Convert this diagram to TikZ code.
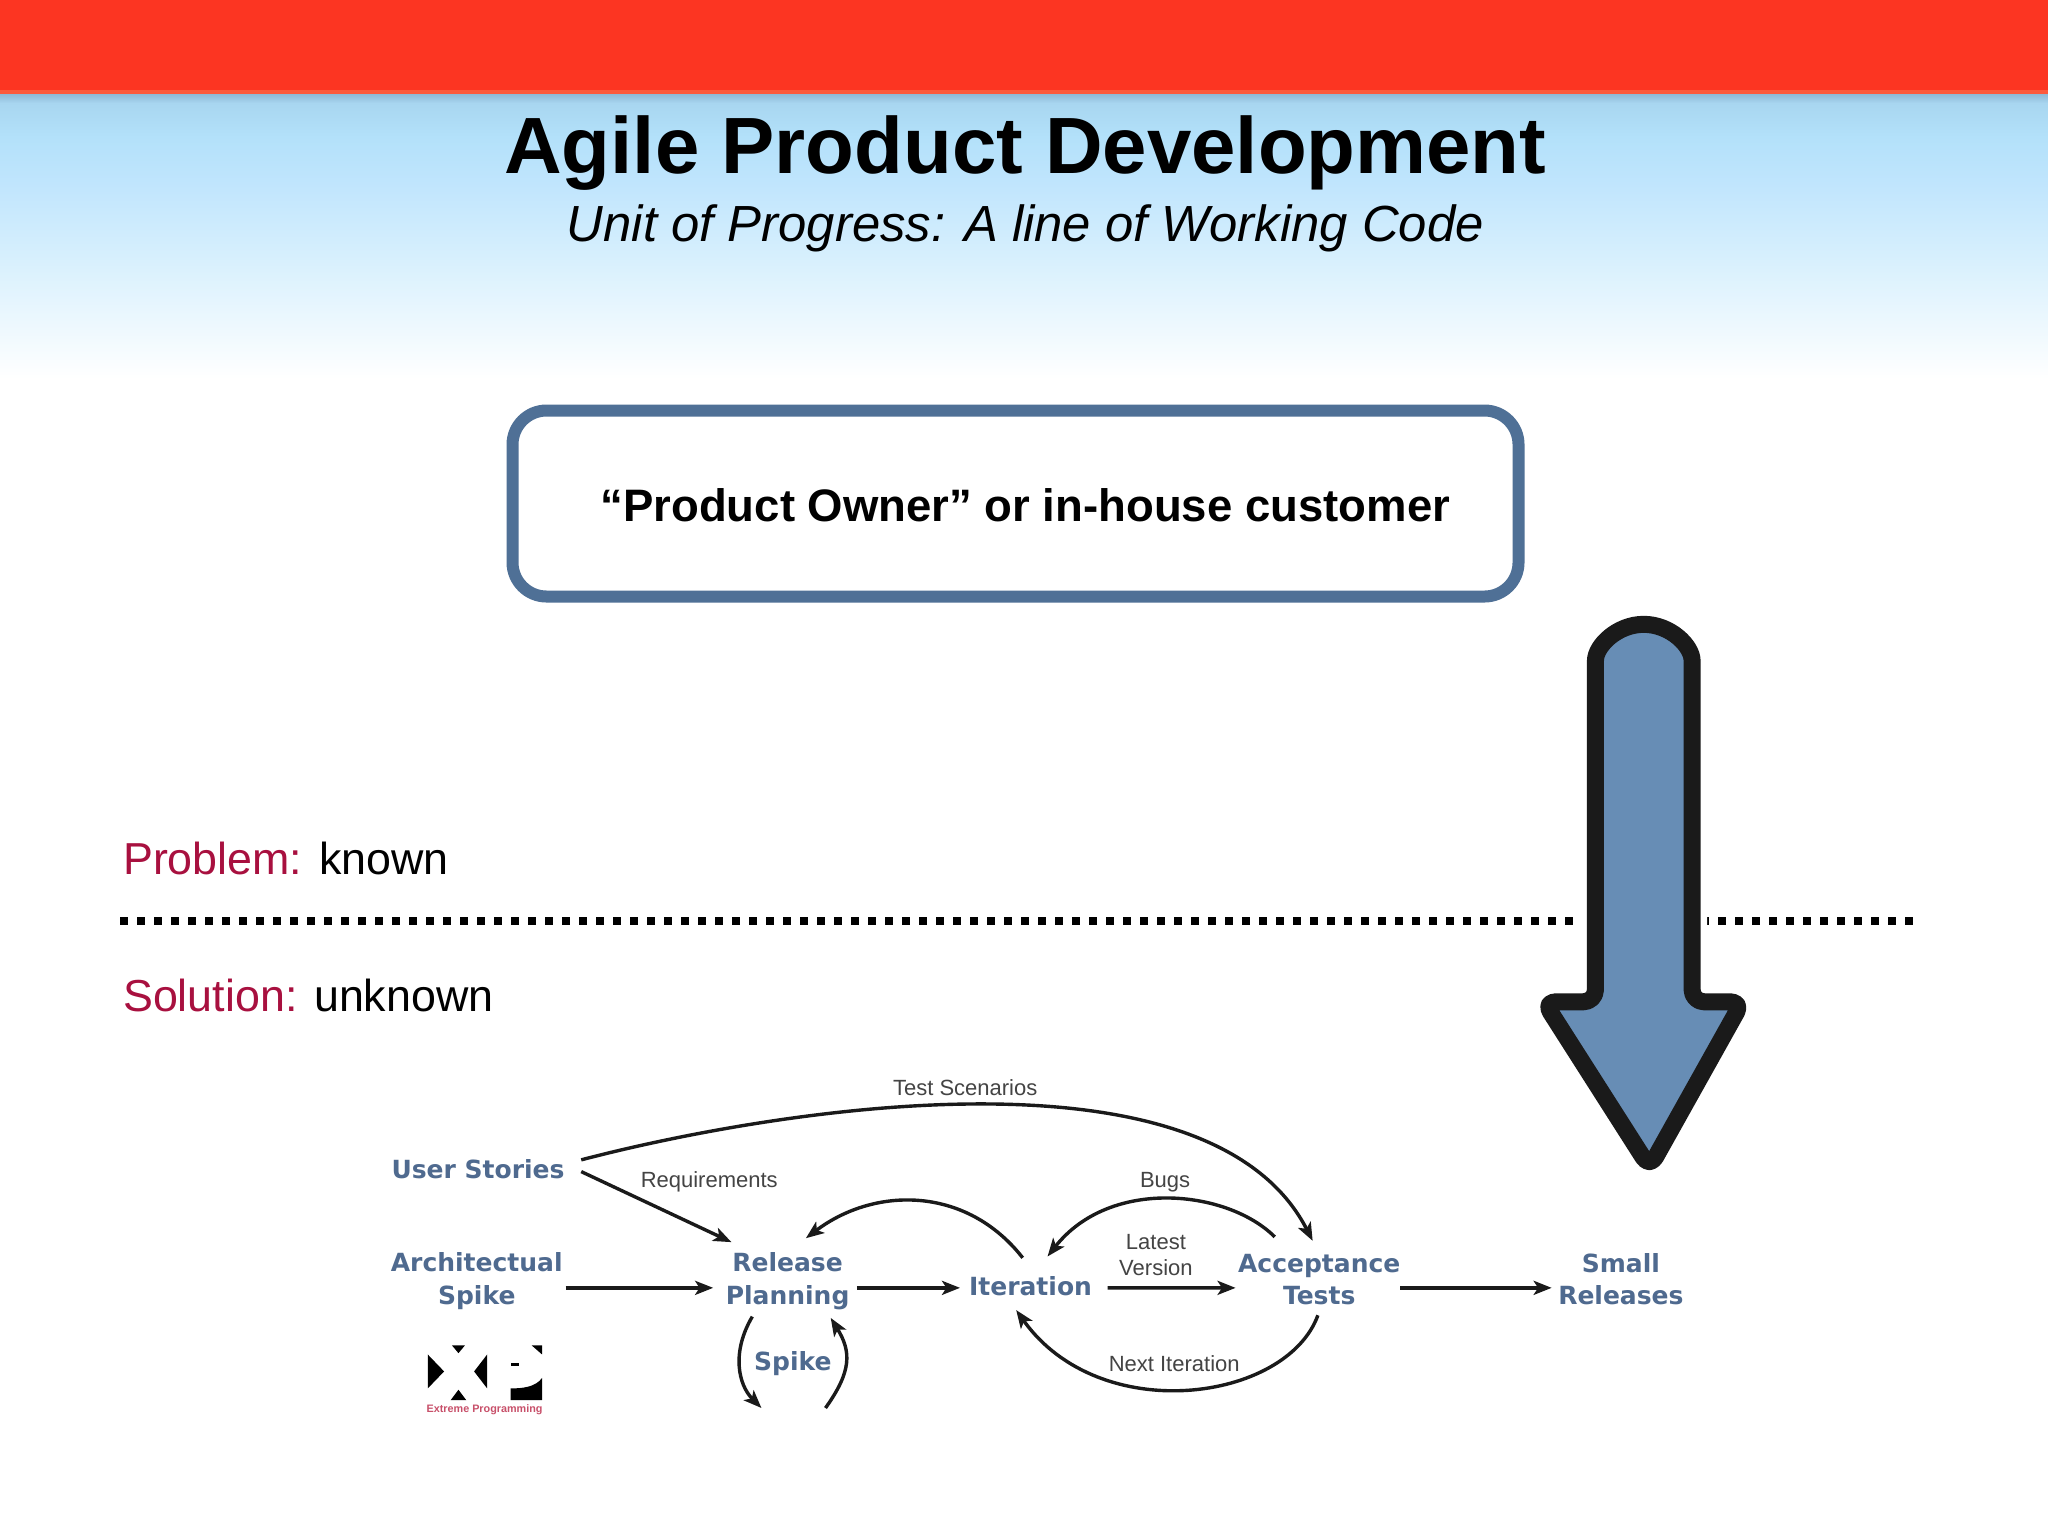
\documentclass[tikz,border=0pt]{standalone}
\usepackage{fontspec}
\setmainfont{Liberation Sans}
\newfontfamily\stagefont{DejaVu Sans}
\usetikzlibrary{arrows.meta,calc}
\definecolor{barred}{HTML}{FC3522}
\definecolor{stripred}{HTML}{FD5A3C}
\definecolor{skyA}{HTML}{8FBAD6}
\definecolor{skyB}{HTML}{A8D6F0}
\definecolor{skyC}{HTML}{B3E1FA}
\definecolor{skyD}{HTML}{C0E5FD}
\definecolor{skyE}{HTML}{D8F0FD}
\definecolor{boxblue}{HTML}{4F7096}
\definecolor{arrowblue}{HTML}{678DB5}
\definecolor{arrowink}{HTML}{1A1A1A}
\definecolor{crimson}{HTML}{A8103F}
\definecolor{stageblue}{HTML}{4F6A8F}
\definecolor{labelgrey}{HTML}{444444}
\definecolor{logopink}{HTML}{C8506A}
\tikzset{
  stage/.style={inner sep=0pt,align=center,text=stageblue,font=\stagefont\bfseries\fontsize{12.5}{16.3}\selectfont},
  flowlabel/.style={inner sep=0pt,align=center,text=labelgrey,font=\fontsize{11}{13.2}\selectfont},
  flow/.style={draw=arrowink,line width=1.7pt,-{Stealth[length=9pt,width=7pt,inset=2.2pt]}},
  side/.style={inner sep=0pt,anchor=west,font=\fontsize{22.4}{27}\selectfont},
}
\begin{document}
\begin{tikzpicture}[x=0.65306pt,y=-0.65306pt]
\useasboundingbox (0,0) rectangle (1568,1176);
\fill[white] (0,0) rectangle (1568,1176);
% header
\shade[top color=skyA,bottom color=skyB] (0,72) rectangle (1568,79);
\shade[top color=skyB,bottom color=skyC] (0,79) rectangle (1568,105);
\shade[top color=skyC,bottom color=skyD] (0,105) rectangle (1568,140);
\shade[top color=skyD,bottom color=skyE] (0,140) rectangle (1568,200);
\shade[top color=skyE,bottom color=white] (0,200) rectangle (1568,290);
\fill[barred] (0,0) rectangle (1568,69);
\fill[stripred] (0,69) rectangle (1568,72);
\node[inner sep=0pt,font=\bfseries\fontsize{39.9}{48}\selectfont] (title) at (785,117.5) {Agile Product Development};
\node[inner sep=0pt,font=\itshape\fontsize{25.4}{31}\selectfont] (subtitle) at (785,175) {Unit of Progress: A line of Working Code};
% owner box
\node[draw=boxblue,line width=6pt,rounded corners=17pt,minimum width=503pt,minimum height=93pt,inner sep=0pt] (ownerbox) at (777.5,385.5) {};
\node[inner sep=0pt,font=\bfseries\fontsize{22.75}{27}\selectfont] (ownertext) at (785,387) {“Product Owner” or in-house customer};
% problem / solution
\node[side] (problem) at (94,657) {\textcolor{crimson}{Problem:} known};
\node[side] (solution) at (94,762) {\textcolor{crimson}{Solution:} unknown};
\coordinate (divL) at (92,705);
\coordinate (divR) at (1471,705);
\draw[line width=4pt,dash pattern=on 4pt off 4.5pt] (divL) -- (divR);
% big arrow
\draw[fill=arrowblue,draw=arrowink,line width=8.5pt,line join=round,rounded corners=6pt,
      preaction={draw=white,line width=15pt}]
  (1221.5,767) -- (1221.5,515) arc[start angle=180,end angle=360,radius=37] -- (1295.5,767) -- (1334,767) -- (1263,894) -- (1182,767) -- cycle;
% stages
\node[stage] (us) at (366,895) {User Stories};
\node[stage] (arch) at (365,981) {Architectual\\Spike};
\node[stage] (rel) at (603,981) {Release\\Planning};
\node[stage] (spk) at (607,1044) {Spike};
\node[stage] (iter) at (789,985) {Iteration};
\node[stage] (acc) at (1010,979.5) {Acceptance\\Tests};
\node[stage] (small) at (1241,979.5) {Small\\Releases};
% labels
\node[flowlabel] (ltest) at (739,833) {Test Scenarios};
\node[flowlabel] (lreq) at (543,905) {Requirements};
\node[flowlabel] (lbugs) at (892,905) {Bugs};
\node[flowlabel] (llatest) at (885,961) {Latest\\Version};
\node[flowlabel] (lnext) at (899,1044) {Next Iteration};
% connectors
\draw[flow] ([shift={(79,-7)}]us.center) .. controls (590,850) and (925,794) .. ([shift={(-5,-29.5)}]acc.center);
\draw[flow] ([shift={(79,2)}]us.center) -- ([shift={(-43,-30)}]rel.center);
\draw[flow] ([shift={(68,5)}]arch.center) -- ([shift={(-57,5)}]rel.center);
\draw[flow] ([shift={(53,5)}]rel.center) -- ([shift={(-54,1)}]iter.center);
\draw[flow] ([shift={(59,1)}]iter.center) -- ([shift={(-64,6.5)}]acc.center);
\draw[flow] ([shift={(62,6.5)}]acc.center) -- ([shift={(-53,6.5)}]small.center);
\draw[flow] ([shift={(-6,-22)}]iter.center) .. controls (740,908) and (670,908) .. ([shift={(14,-33)}]rel.center);
\draw[flow] ([shift={(-34,-32.5)}]acc.center) .. controls (940,911) and (850,901) .. ([shift={(13,-23)}]iter.center);
\draw[flow] ([shift={(-1,27.5)}]acc.center) .. controls (985,1073) and (842,1093) .. ([shift={(-11,18)}]iter.center);
\draw[flow] ([shift={(-27,27)}]rel.center) .. controls (560,1035) and (565,1060) .. ([shift={(-24,34)}]spk.center);
\draw[flow] ([shift={(25,34)}]spk.center) .. controls (652,1050) and (652,1035) .. ([shift={(33,28)}]rel.center);
% XP logo
\fill[black] (327.5,1037) -- (340,1050) -- (327.5,1063) -- cycle;
\fill[black] (373,1037) -- (363,1050) -- (373,1063) -- cycle;
\fill[black] (346,1030) -- (356,1030) -- (351,1036) -- cycle;
\fill[black] (345,1072) -- (357,1072) -- (351,1064) -- cycle;
\fill[black] (407,1030) -- (415,1030) -- (415,1037) -- cycle;
\fill[black] (391,1043.5) rectangle (397,1046);
\fill[black] (391,1072) -- (415,1072) -- (415,1055) .. controls (410,1062) and (400,1063) .. (391,1063) -- cycle;
\node[inner sep=0pt,text=logopink,font=\bfseries\fontsize{5.4}{6}\selectfont] (xpname) at (371,1079) {Extreme Programming};
\end{tikzpicture}
\end{document}
